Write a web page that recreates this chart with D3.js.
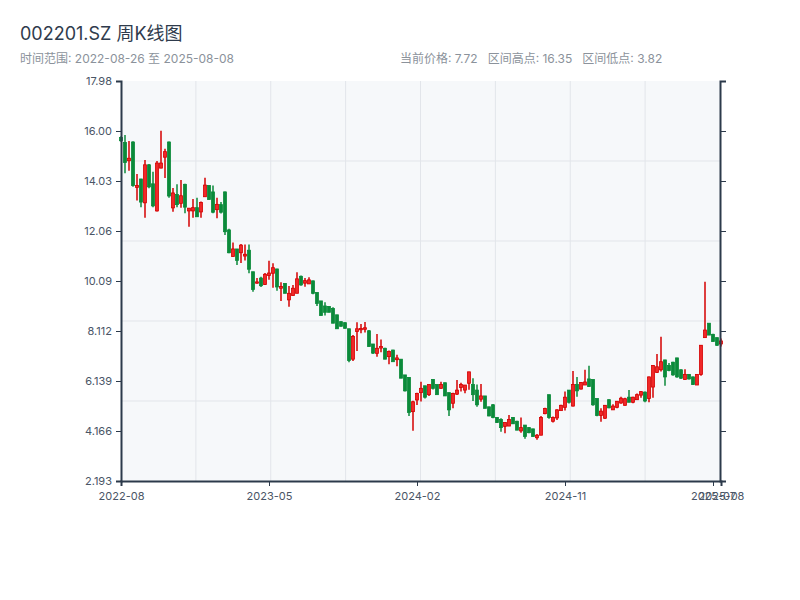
<!DOCTYPE html>
<html><head><meta charset="utf-8">
<script src="https://cdn.jsdelivr.net/npm/d3@7"></script>
<style>
html,body{margin:0;padding:0;background:#fff;}
svg{display:block;font-family:Inter,"Noto Sans CJK SC",sans-serif;}
</style></head>
<body><svg id="chart" width="800" height="600"></svg>
<script>
// ---- data ----
const startDate = "2022-08-26";
const skippedWeeks = ["2022-10-07","2023-01-27","2023-10-06","2024-02-16"]; // holiday weeks without trading
const open  = [15.75,15.55,14.83,15.57,13.78,14.11,13.17,14.67,13.92,12.85,14.54,14.97,15.57,12.97,13.50,13.15,13.90,12.85,12.85,12.98,
               12.81,13.41,13.85,13.60,12.90,13.10,13.60,12.10,11.05,11.35,11.20,11.07,11.30,10.45,10.00,10.20,9.95,10.30,10.39,10.56,
               9.80,9.99,9.34,9.51,9.60,10.27,10.00,9.97,10.09,9.63,9.30,9.10,9.08,9.00,8.75,8.48,8.44,8.20,7.00,8.09,
               8.16,8.18,8.12,7.60,7.23,7.44,7.43,7.10,7.36,6.98,7.00,6.38,6.28,4.93,5.39,5.68,5.95,5.60,6.20,6.00,
               5.85,6.07,5.68,5.26,5.62,5.88,5.78,6.05,6.00,5.78,5.42,5.55,5.12,5.20,4.70,4.62,4.35,4.36,4.70,4.55,
               4.17,4.40,4.30,4.25,3.90,4.00,4.85,5.60,4.55,4.68,4.97,5.10,5.78,5.15,6.00,5.82,5.98,6.22,6.20,5.45,
               4.78,4.67,5.40,5.00,5.10,5.27,5.18,5.50,5.30,5.40,5.58,5.70,5.45,5.90,6.48,6.58,6.97,6.75,6.88,7.05,
               6.58,6.20,6.40,6.30,5.98,6.40,7.85,8.42,7.98,7.85,7.60];
const high  = [15.80,15.85,15.61,15.60,14.31,14.12,14.86,14.70,14.40,14.82,16.01,15.30,15.59,13.76,13.90,14.07,13.92,12.97,13.32,13.37,
               13.22,14.16,13.86,13.85,13.37,13.20,13.62,12.15,11.60,11.35,11.55,11.53,11.53,10.45,10.20,10.25,10.40,10.88,10.79,10.57,
               10.04,10.00,9.89,9.93,10.43,10.30,10.20,10.23,10.10,9.64,9.30,9.25,9.10,9.05,8.75,8.50,8.46,8.20,7.95,8.46,
               8.39,8.47,8.15,7.60,7.99,7.78,7.45,7.34,7.37,7.17,7.00,6.38,6.30,5.36,5.68,6.11,5.95,6.00,6.21,6.00,
               6.11,6.08,5.68,5.68,6.18,6.07,5.98,6.50,6.25,6.00,6.02,5.55,5.12,5.23,4.72,4.67,4.50,4.80,4.72,4.57,
               4.70,4.40,4.32,4.25,4.05,4.76,5.08,5.60,4.74,5.02,5.20,5.72,5.78,6.53,6.30,6.10,6.58,6.74,6.20,5.45,
               5.06,5.19,5.42,5.22,5.35,5.52,5.48,5.78,5.52,5.65,5.74,5.72,6.32,6.76,7.20,7.89,6.98,6.85,6.90,7.06,
               6.60,6.60,6.42,6.32,6.42,7.56,10.06,8.42,8.00,7.86,7.82];
const low   = [15.58,14.34,14.44,13.80,13.26,13.00,12.58,13.75,13.00,12.83,14.53,14.15,13.37,12.82,13.00,12.98,12.76,12.23,12.58,12.62,
               12.58,13.41,13.29,12.76,12.56,12.75,11.90,11.18,11.05,10.72,10.80,10.89,10.39,9.66,9.98,9.85,9.93,10.13,9.82,9.70,
               9.30,9.60,9.07,9.51,9.60,9.90,9.86,9.97,9.56,9.10,8.72,8.72,8.85,8.42,8.20,8.28,8.20,6.88,6.93,7.32,
               8.02,8.05,7.49,7.20,7.10,7.27,7.00,6.80,6.90,6.72,6.25,5.72,4.76,4.18,5.19,5.33,5.45,5.55,5.80,5.60,
               5.83,5.55,4.76,5.06,5.59,5.72,5.66,5.79,5.35,5.12,5.32,5.06,4.75,4.67,4.48,4.14,4.08,4.36,4.44,4.20,
               4.10,3.86,4.08,3.94,3.82,4.00,4.83,4.65,4.50,4.60,4.97,4.97,5.25,5.13,5.52,5.80,5.98,5.90,5.16,4.75,
               4.53,4.64,5.06,4.99,5.06,5.24,5.16,5.30,5.26,5.39,5.48,5.30,5.30,5.48,6.45,6.51,5.95,6.52,6.35,6.27,
               6.22,6.20,6.20,5.98,5.98,6.35,7.85,7.95,7.69,7.52,7.50];
const close = [15.62,14.76,14.93,13.85,13.85,13.20,14.67,13.80,13.05,14.74,14.74,15.19,13.44,13.56,13.10,13.45,13.00,12.96,12.98,12.62,
               13.18,13.87,13.30,12.80,13.11,12.80,12.03,11.20,11.35,10.90,11.50,11.14,10.55,9.75,10.05,9.90,10.35,10.40,10.61,9.85,
               9.87,9.60,9.60,9.80,10.17,9.93,10.10,10.13,9.60,9.20,8.72,8.85,8.85,8.42,8.20,8.30,8.22,6.95,7.90,8.20,
               8.21,8.24,7.50,7.24,7.43,7.50,7.00,7.30,6.90,7.05,6.25,5.75,4.90,5.32,5.65,5.85,5.50,6.00,5.85,5.60,
               6.00,5.55,5.00,5.65,5.78,6.00,5.98,6.50,5.60,5.20,5.55,5.06,4.76,4.70,4.50,4.30,4.50,4.62,4.45,4.20,
               4.30,3.95,4.10,3.95,4.00,4.70,5.05,4.70,4.70,5.00,5.18,5.50,5.30,6.00,5.75,6.08,6.10,5.92,5.20,4.78,
               4.95,5.18,5.08,5.15,5.34,5.46,5.44,5.30,5.50,5.60,5.72,5.35,6.30,6.75,6.70,6.90,6.30,6.55,6.38,6.30,
               6.25,6.40,6.22,6.00,6.40,7.55,8.15,7.95,7.70,7.55,7.72];
const yTickCount = 9;
const yDomain = [2.1928, 17.9776];
const xTickStep = 37;
const titleText = "002201.SZ 周K线图";
const rangeText = "时间范围: 2022-08-26 至 2025-08-08";
const statsText = "当前价格: 7.72   区间高点: 16.35   区间低点: 3.82";

// ---- build dates (weekly, skipping holiday weeks) ----
const parse = d3.timeParse("%Y-%m-%d"), fmtDay = d3.timeFormat("%Y-%m-%d");
const dates = [];
let d = parse(startDate);
while (dates.length < close.length) {
  if (!skippedWeeks.includes(fmtDay(d))) dates.push(d);
  d = d3.timeWeek.offset(d, 1);
}
const data = close.map((c, i) => ({i, date: dates[i], o: open[i], h: high[i], l: low[i], c}));

// ---- layout ----
const svg = d3.select("#chart");
const L = 121, T = 81, W = 599, H = 400;

const x = d3.scalePoint().domain(data.map(e => e.i)).range([L, L + 600]);
const y = d3.scaleLinear().domain(yDomain).range([T + H, T]);

svg.append("rect").attr("x", L).attr("y", T).attr("width", W).attr("height", H).attr("fill", "#f6f8fa");

// grid
const gx = d3.scaleLinear().domain([0, 8]).range([L, L + W]);
const gy = d3.scaleLinear().domain([0, 5]).range([T, T + H]);
svg.append("g").selectAll("line").data(d3.range(1, 8)).join("line")
  .attr("x1", k => gx(k)).attr("x2", k => gx(k)).attr("y1", T).attr("y2", T + H)
  .attr("stroke", "#e2e5ea").attr("stroke-width", 1);
svg.append("g").selectAll("line").data(d3.range(1, 5)).join("line")
  .attr("y1", k => gy(k)).attr("y2", k => gy(k)).attr("x1", L).attr("x2", L + W)
  .attr("stroke", "#e2e5ea").attr("stroke-width", 1);

// candles
const up = "#d40000", upFill = "#f02828", down = "#0b8a3a";
const bw = 3;
const cg = svg.append("g");
cg.selectAll("line.wick").data(data).join("line").attr("class", "wick")
  .attr("x1", e => x(e.i)).attr("x2", e => x(e.i))
  .attr("y1", e => y(e.h)).attr("y2", e => y(e.l))
  .attr("stroke", e => e.c >= e.o ? up : down).attr("stroke-width", 1.5);
cg.selectAll("rect.body").data(data).join("rect").attr("class", "body")
  .attr("x", e => x(e.i) - bw / 2)
  .attr("y", e => y(Math.max(e.o, e.c)))
  .attr("width", bw)
  .attr("height", e => Math.max(1, Math.abs(y(e.o) - y(e.c))))
  .attr("fill", e => e.c >= e.o ? upFill : down)
  .attr("stroke", e => e.c >= e.o ? up : down).attr("stroke-width", 0.8);

// axes
const yTicks = d3.range(yTickCount).map(k => yDomain[0] + (yDomain[1] - yDomain[0]) * k / (yTickCount - 1));
const axisColor = "#2c3a4b";
const yAxis = svg.append("g").attr("transform", `translate(${L},0)`)
  .call(d3.axisLeft(y).tickValues(yTicks).tickFormat(d3.format(".4g")).tickSize(5).tickPadding(4));
const yAxisR = svg.append("g").attr("transform", `translate(${L + W},0)`)
  .call(d3.axisRight(y).tickValues(yTicks).tickFormat("").tickSize(6));

const xTickIdx = d3.range(0, data.length, xTickStep).concat([data.length - 1]);
const xAxis = svg.append("g").attr("transform", `translate(0,${T + H})`)
  .call(d3.axisBottom(x).tickValues(xTickIdx).tickFormat(i => d3.timeFormat("%Y-%m")(dates[i])).tickSize(5).tickPadding(6));

[yAxis, yAxisR, xAxis].forEach(g => {
  g.select(".domain").attr("stroke", axisColor).attr("stroke-width", 2);
  g.selectAll(".tick line").attr("stroke", axisColor).attr("stroke-width", 1);
  g.selectAll(".tick text").attr("fill", "#4a5566").attr("font-size", 11)
    .attr("font-family", 'Inter,"Noto Sans CJK SC",sans-serif');
});

// titles
svg.append("text").attr("x", 20).attr("y", 40).text(titleText)
  .attr("font-size", 18).attr("fill", "#2f3b4c");
svg.append("text").attr("x", 20).attr("y", 63).text(rangeText)
  .attr("font-size", 12).attr("fill", "#8b929b");
svg.append("text").attr("x", 400).attr("y", 63).text(statsText)
  .attr("font-size", 12).attr("fill", "#8b929b").attr("xml:space", "preserve").style("white-space", "pre");
</script></body></html>
